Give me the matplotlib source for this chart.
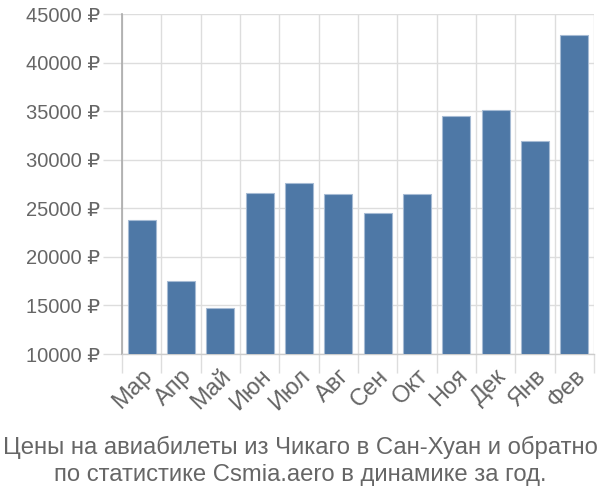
import matplotlib.pyplot as plt
import numpy as np

months = ['Мар', 'Апр', 'Май', 'Июн', 'Июл', 'Авг', 'Сен', 'Окт', 'Ноя', 'Дек', 'Янв', 'Фев']
prices = [23800, 17550, 14750, 26600, 27600, 26500, 24550, 26500, 34450, 35100, 31900, 42800]
yticks = [10000, 15000, 20000, 25000, 30000, 35000, 40000, 45000]
title = 'Цены на авиабилеты из Чикаго в Сан-Хуан и обратно\nпо статистике Csmia.aero в динамике за год.'

plt.rcParams['font.family'] = ['Liberation Sans', 'DejaVu Sans']

fig = plt.figure(figsize=(6, 5), dpi=100)
ax = fig.add_axes([122 / 600, 1 - 354 / 500, 472 / 600, 340 / 500])

x = np.arange(len(months))
ax.bar(x, prices, width=0.72, bottom=0, color='#4e78a6', edgecolor='#a6bbd4', linewidth=0.8, zorder=3)

ax.set_xlim(-0.5, len(months) - 0.5)
ax.set_ylim(10000, 45000)

ax.set_yticks(yticks)
ax.set_yticklabels(['{} ₽'.format(v) for v in yticks])
ax.set_xticks(x)
ax.set_xticklabels(months, rotation=45, ha='right', va='top', rotation_mode='anchor')
ax.set_xticks(np.arange(-0.5, len(months)), minor=True)

ax.tick_params(axis='y', length=14, color='#dddddd', width=1, labelsize=14.5, labelcolor='#666666', pad=2)
ax.tick_params(axis='x', which='major', length=0, labelsize=17, labelcolor='#666666', pad=8)
ax.tick_params(axis='x', which='minor', length=14, color='#dddddd', width=1)

ax.grid(True, axis='y', color='#dddddd', linewidth=1, zorder=0)
ax.grid(True, axis='x', which='minor', color='#dddddd', linewidth=1, zorder=0)
ax.grid(False, axis='x', which='major')

for s in ['top', 'right']:
    ax.spines[s].set_visible(False)
ax.spines['left'].set_color('#aaaaaa')
ax.spines['left'].set_linewidth(1.2)
ax.spines['bottom'].set_color('#cccccc')
ax.spines['bottom'].set_linewidth(1)

fig.text(0.5, 1 - 461 / 500, title, ha='center', va='center', fontsize=17.2, color='#666666', linespacing=1.28)

fig.savefig('out.png', dpi=100)
